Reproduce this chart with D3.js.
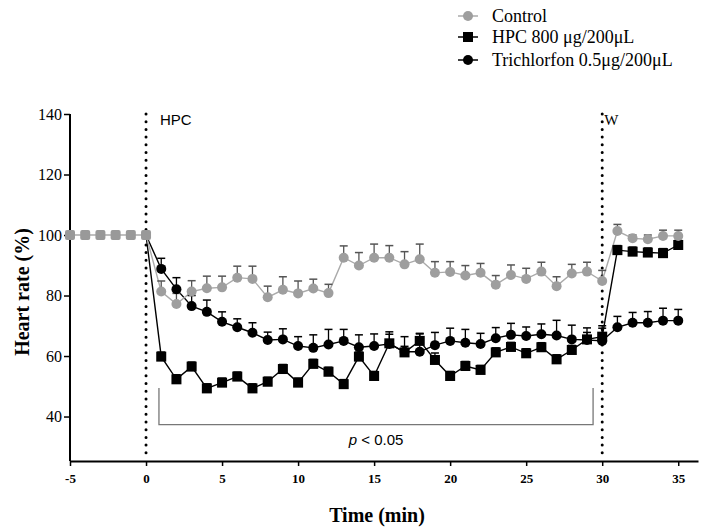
<!DOCTYPE html>
<html><head><meta charset="utf-8">
<script src="https://cdn.jsdelivr.net/npm/d3@7"></script>
<style>body{margin:0;background:#fff}svg{display:block}</style>
</head><body>
<svg id="c" width="701" height="532"></svg>
<script>
const times = [0,1,2,3,4,5,6,7,8,9,10,11,12,13,14,15,16,17,18,19,20,21,22,23,24,25,26,27,28,29,30,31,32,33,34,35];
const baselineTimes = [-5,-4,-3,-2,-1,0];
const baselineValues = [100,100,100,100,100,100];
const control = [100,81.3,77.2,81.3,82.4,82.7,85.9,85.5,79.4,81.9,80.7,82.3,80.8,92.5,89.9,92.5,92.5,90.3,92,87.5,87.8,86.6,87.5,83.6,86.8,85.5,87.9,83.1,87.3,87.9,84.8,101.3,98.9,98.6,99.7,99.7];
const controlErr = [0,3.5,3.5,3.6,4,3.7,3.8,4.2,3.7,4.3,4.1,3.1,2.9,3.9,4.3,4.5,4,4.2,5,3.7,3.4,3.3,3.1,3,3.3,3.5,3.1,3.1,3,3.1,3.5,2.2,1.1,1.4,1.9,1.9];
const hpc = [100,59.8,52.3,56.5,49.3,51.2,53.2,49.3,51.5,55.7,51.2,57.4,54.8,50.7,59.8,53.4,64.2,61.2,65,58.7,53.4,56.7,55.4,61.2,63,60.9,62.9,58.9,62,65.5,66.4,95,94.5,94.2,94,96.7];
const hpcErr = [0,1.5,1.5,1.5,1.5,1.5,1.5,1.5,1.5,1.5,1.5,1.5,1.5,1.5,1.5,1.5,3,2,2.5,2.3,1.5,1.5,1.5,1.5,1.5,1.5,1.5,1.5,1.5,2.3,2.8,1.5,1.5,1.5,1.5,1.5];
const trich = [100,88.8,82.1,76.5,74.6,71.3,69.5,67.7,65.3,65.5,63.3,62.7,63.8,65,62.9,63.3,64,61.4,61.4,63.6,65,64.4,64,65.9,67,66.6,67.2,66.8,65.5,65.3,65,69.5,71,71,71.7,71.7];
const trichErr = [0,3.5,3.8,3.5,3.9,3.3,2.8,3.3,2.6,3.5,3.1,4.3,5,3.8,4.1,4,4,5,5.9,4.2,4.2,4.4,3.5,3.5,3.8,3,3.4,5,4.7,4,5,3.6,3.4,3.7,4.1,3.7];
const xTicks = [-5,0,5,10,15,20,25,30,35];
const yTicks = [40,60,80,100,120,140];
const legendLabels = ["Control","HPC 800 \u03bcg/200\u03bcL","Trichlorfon 0.5\u03bcg/200\u03bcL"];
const markers = ["HPC","W"];
const markerTimes = [0,30];
const bracketRange = [0.85,29.4];
const bracketLevels = [49.4,37.3];
const pText = "< 0.05";

const svg = d3.select("#c");
const x = d3.scaleLinear().domain([-5,36.3]).range([70,698]);
const y = d3.scaleLinear().domain([25.3,140]).range([461,114]);
const serif = "'Liberation Serif', 'Times New Roman', serif";
const sans = "'Liberation Sans', Arial, sans-serif";

// axes
const yAxis = svg.append("g").attr("transform","translate(70,0)")
  .call(d3.axisLeft(y).tickValues(yTicks).tickFormat(d=>String(d)).tickSize(6).tickSizeOuter(0));
yAxis.attr("font-family",null);
yAxis.select(".domain").attr("stroke","#000").attr("stroke-width",2).attr("d",`M0,${y(140)}V${y.range()[0]}`);
yAxis.selectAll(".tick line").attr("stroke","#000").attr("stroke-width",1.5);
yAxis.selectAll(".tick text").style("font-family",serif).style("font-size","16px").attr("fill","#000").attr("x",-8);

const xAxis = svg.append("g").attr("transform",`translate(0,${y.range()[0]})`)
  .call(d3.axisBottom(x).tickValues(xTicks).tickFormat(d=>String(d)).tickSize(5).tickSizeOuter(0));
xAxis.attr("font-family",null);
xAxis.select(".domain").attr("stroke","#000").attr("stroke-width",2);
xAxis.selectAll(".tick line").attr("stroke","#000").attr("stroke-width",1.5);
xAxis.selectAll(".tick text").style("font-family",serif).style("font-size","13px").style("font-weight","bold").attr("fill","#000").attr("dy","1.05em");

// axis titles
svg.append("text").attr("x",377).attr("y",522).attr("text-anchor","middle")
  .style("font-family",serif).style("font-weight","bold").style("font-size","20px").text("Time (min)");
svg.append("text").attr("transform","translate(29,292) rotate(-90)").attr("text-anchor","middle")
  .style("font-family",serif).style("font-weight","bold").style("font-size","20px").text("Heart rate (%)");

// dotted vertical lines
svg.selectAll(".vl").data(markerTimes).enter().append("line")
  .attr("x1",d=>x(d)).attr("x2",d=>x(d)).attr("y1",y(140)).attr("y2",y.range()[0]-4)
  .attr("stroke","#000").attr("stroke-width",3).attr("stroke-linecap","round").attr("stroke-dasharray","0,7.7");
svg.append("text").attr("x",x(0)+14).attr("y",125).style("font-family",sans).style("font-size","15px").text(markers[0]);
svg.append("text").attr("x",x(30)+2).attr("y",125).style("font-family",serif).style("font-size","15px").text(markers[1]);

// bracket
svg.append("path").attr("fill","none").attr("stroke","#777").attr("stroke-width",1.3)
  .attr("d",`M${x(bracketRange[0])},${y(bracketLevels[0])}V${y(bracketLevels[1])}H${x(bracketRange[1])}V${y(bracketLevels[0])}`);
const pt = svg.append("text").attr("x",(x(bracketRange[0])+x(bracketRange[1]))/2).attr("y",445).attr("text-anchor","middle")
  .style("font-family",sans).style("font-size","15px");
pt.append("tspan").style("font-style","italic").text("p");
pt.append("tspan").text(" "+pText);

const series = [
  {vals:hpc, err:hpcErr, line:"#000", fill:"#000", errc:"#000", shape:"square"},
  {vals:trich, err:trichErr, line:"#000", fill:"#000", errc:"#000", shape:"circle"},
  {vals:control, err:controlErr, line:"#aaa", fill:"#9e9e9e", errc:"#555", shape:"circle"}
];
const line = d3.line().x((d,i)=>x(times[i])).y(d=>y(d));

series.forEach(s=>{
  svg.append("path").datum(s.vals).attr("fill","none").attr("stroke",s.line).attr("stroke-width",1.4).attr("d",line);
});
series.forEach(s=>{
  const g = svg.append("g");
  s.vals.forEach((v,i)=>{
    if(times[i]<=0) return;
    const e = s.err[i];
    const cx = x(times[i]);
    g.append("line").attr("x1",cx).attr("x2",cx).attr("y1",y(v)).attr("y2",y(v+e)).attr("stroke",s.errc).attr("stroke-width",1.3);
    g.append("line").attr("x1",cx-4).attr("x2",cx+4).attr("y1",y(v+e)).attr("y2",y(v+e)).attr("stroke",s.errc).attr("stroke-width",1.5);
  });
});
series.forEach(s=>{
  const g = svg.append("g");
  s.vals.forEach((v,i)=>{
    if(times[i]<=0) return;
    const cx = x(times[i]), cy = y(v);
    if(s.shape==="square") g.append("rect").attr("x",cx-5).attr("y",cy-5).attr("width",10).attr("height",10).attr("fill",s.fill);
    else g.append("circle").attr("cx",cx).attr("cy",cy).attr("r",5).attr("fill",s.fill);
  });
});
// baseline
svg.append("path").datum(baselineValues).attr("fill","none").attr("stroke","#aaa").attr("stroke-width",1.4)
  .attr("d",d3.line().x((d,i)=>x(baselineTimes[i])).y(d=>y(d)));
svg.selectAll(".bm").data(baselineValues).enter().append("rect")
  .attr("x",(d,i)=>x(baselineTimes[i])-5).attr("y",d=>y(d)-5).attr("width",10).attr("height",10).attr("rx",2)
  .attr("fill","#999");

// legend
const lg = svg.append("g");
const lrows = [16,37,60];
legendLabels.forEach((t,i)=>{
  const yy = lrows[i];
  const s = [series[2],series[0],series[1]][i];
  lg.append("line").attr("x1",458).attr("x2",478).attr("y1",yy).attr("y2",yy).attr("stroke",i===0?"#aaa":"#000").attr("stroke-width",1.5);
  if(s.shape==="square") lg.append("rect").attr("x",463).attr("y",yy-5).attr("width",10).attr("height",10).attr("fill",s.fill);
  else lg.append("circle").attr("cx",468).attr("cy",yy).attr("r",5).attr("fill",s.fill);
  lg.append("text").attr("x",492).attr("y",yy+6).style("font-family",serif).style("font-size","18px").text(t);
});
</script>
</body></html>
